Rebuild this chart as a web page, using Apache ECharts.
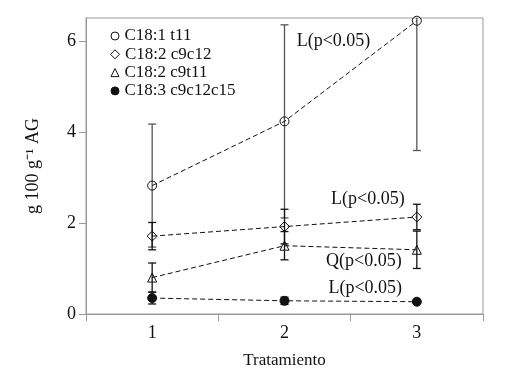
<!DOCTYPE html>
<html>
<head>
<meta charset="utf-8">
<script src="https://cdn.jsdelivr.net/npm/echarts@6/dist/echarts.min.js"></script>
<style>
  html, body { margin: 0; padding: 0; background: #fff; }
  #main { width: 512px; height: 388px; }
</style>
</head>
<body>
<div id="main"></div>
<script>
// datos
const tratamientos = ['1', '2', '3'];
const xPos = [1, 2, 3];
const nombres = ['C18:1 t11', 'C18:2 c9c12', 'C18:2 c9t11', 'C18:3 c9c12c15'];
const simbolos = ['circle', 'diamond', 'triangle', 'circle'];
const rellenos = [false, false, false, true];
const t11 = [2.82, 4.23, 6.44];
const t11Err = [1.35, 2.12, 2.85];
const c9c12 = [1.71, 1.92, 2.13];
const c9c12Err = [0.30, 0.38, 0.28];
const c9t11 = [0.80, 1.50, 1.41];
const c9t11Err = [0.32, 0.31, 0.41];
const c9c12c15 = [0.35, 0.29, 0.27];
const c9c12c15Err = [0.13, 0.08, 0.02];
const medias = [t11, c9c12, c9t11, c9c12c15];
const errores = [t11Err, c9c12Err, c9t11Err, c9c12c15Err];
// anotaciones: [texto, x, y] en unidades de datos
const anotaciones = [
  ['L(p<0.05)', 2.37, 5.98],
  ['L(p<0.05)', 2.63, 2.51],
  ['Q(p<0.05)', 2.60, 1.16],
  ['L(p<0.05)', 2.61, 0.57]
];
const yTicks = [0, 2, 4, 6];

const fuente = 'Liberation Serif';
const chart = echarts.init(document.getElementById('main'));

const series = [];
// barras de error
medias.forEach((m, s) => {
  series.push({
    type: 'custom',
    xAxisIndex: 1,
    silent: true,
    clip: true,
    z: 1,
    data: m.map((v, i) => [xPos[i], v - errores[s][i], v + errores[s][i]]),
    renderItem: (params, api) => {
      const lo = api.coord([api.value(0), api.value(1)]);
      const hi = api.coord([api.value(0), api.value(2)]);
      const w = 4;
      const st = { stroke: s === 0 ? '#555' : '#111', lineWidth: 1.3 };
      return {
        type: 'group',
        children: [
          { type: 'line', shape: { x1: lo[0], y1: lo[1], x2: hi[0], y2: hi[1] }, style: st },
          { type: 'line', shape: { x1: lo[0] - w, y1: lo[1], x2: lo[0] + w, y2: lo[1] }, style: st },
          { type: 'line', shape: { x1: hi[0] - w, y1: hi[1], x2: hi[0] + w, y2: hi[1] }, style: st }
        ]
      };
    }
  });
});

// lineas + leyenda (como markPoint en pixeles) + anotaciones
medias.forEach((m, s) => {
  const relleno = rellenos[s] ? '#111' : 'rgba(255,255,255,0)';
  const puntos = [{
    name: nombres[s],
    x: 115, y: 36 + s * 18.3,
    symbol: simbolos[s],
    symbolSize: simbolos[s] === 'diamond' ? 9 : 8,
    itemStyle: { color: relleno, borderColor: '#111', borderWidth: 1 },
    label: {
      show: true, position: 'right', distance: 5,
      fontFamily: fuente, fontSize: 17, color: '#111',
      formatter: (p) => p.name
    }
  }];
  if (s === 0) {
    anotaciones.forEach(a => puntos.push({
      name: a[0], coord: [a[1], a[2]], symbolSize: 0,
      label: {
        show: true, position: 'inside', color: '#111',
        fontFamily: fuente, fontSize: 18,
        formatter: (p) => p.name
      }
    }));
  }
  series.push({
    name: nombres[s],
    type: 'line',
    xAxisIndex: 1,
    z: 3,
    data: m.map((v, i) => [xPos[i], v]),
    symbol: simbolos[s],
    symbolSize: s === 1 ? 10 : 9,
    lineStyle: { color: '#111', width: 1, type: [5, 3] },
    itemStyle: { color: relleno, borderColor: '#111', borderWidth: 1 },
    emphasis: { disabled: true },
    markPoint: { silent: true, data: puntos }
  });
});

const option = {
  animation: false,
  backgroundColor: '#fff',
  textStyle: { fontFamily: fuente, color: '#111' },
  grid: {
    left: 86, right: 29, top: 18, bottom: 74,
    show: true, borderColor: '#999', borderWidth: 1
  },
  xAxis: [{
    type: 'category',
    data: tratamientos,
    boundaryGap: true,
    name: 'Tratamiento',
    nameLocation: 'middle',
    nameGap: 38,
    nameTextStyle: { fontFamily: fuente, fontSize: 17, color: '#111' },
    axisLine: { lineStyle: { color: '#999' } },
    axisTick: { show: true, length: 7, lineStyle: { color: '#999' } },
    axisLabel: { fontFamily: fuente, fontSize: 18, color: '#111', margin: 10 }
  }, {
    type: 'value',
    min: 0.5, max: 3.5,
    show: false
  }],
  yAxis: {
    type: 'value',
    min: 0, max: 6.5, interval: 2,
    name: 'g 100 g⁻¹ AG',
    nameLocation: 'middle',
    nameGap: 44,
    nameTextStyle: { fontFamily: fuente, fontSize: 18, color: '#111' },
    axisLine: { show: true, lineStyle: { color: '#999' } },
    axisTick: { show: true, length: 7, lineStyle: { color: '#999' } },
    splitLine: { show: false },
    axisLabel: {
      fontFamily: fuente, fontSize: 18, color: '#111', margin: 10,
      showMaxLabel: false,
      formatter: (v) => yTicks.indexOf(v) >= 0 ? String(v) : ''
    }
  },
  series: series
};
chart.setOption(option);
</script>
</body>
</html>
